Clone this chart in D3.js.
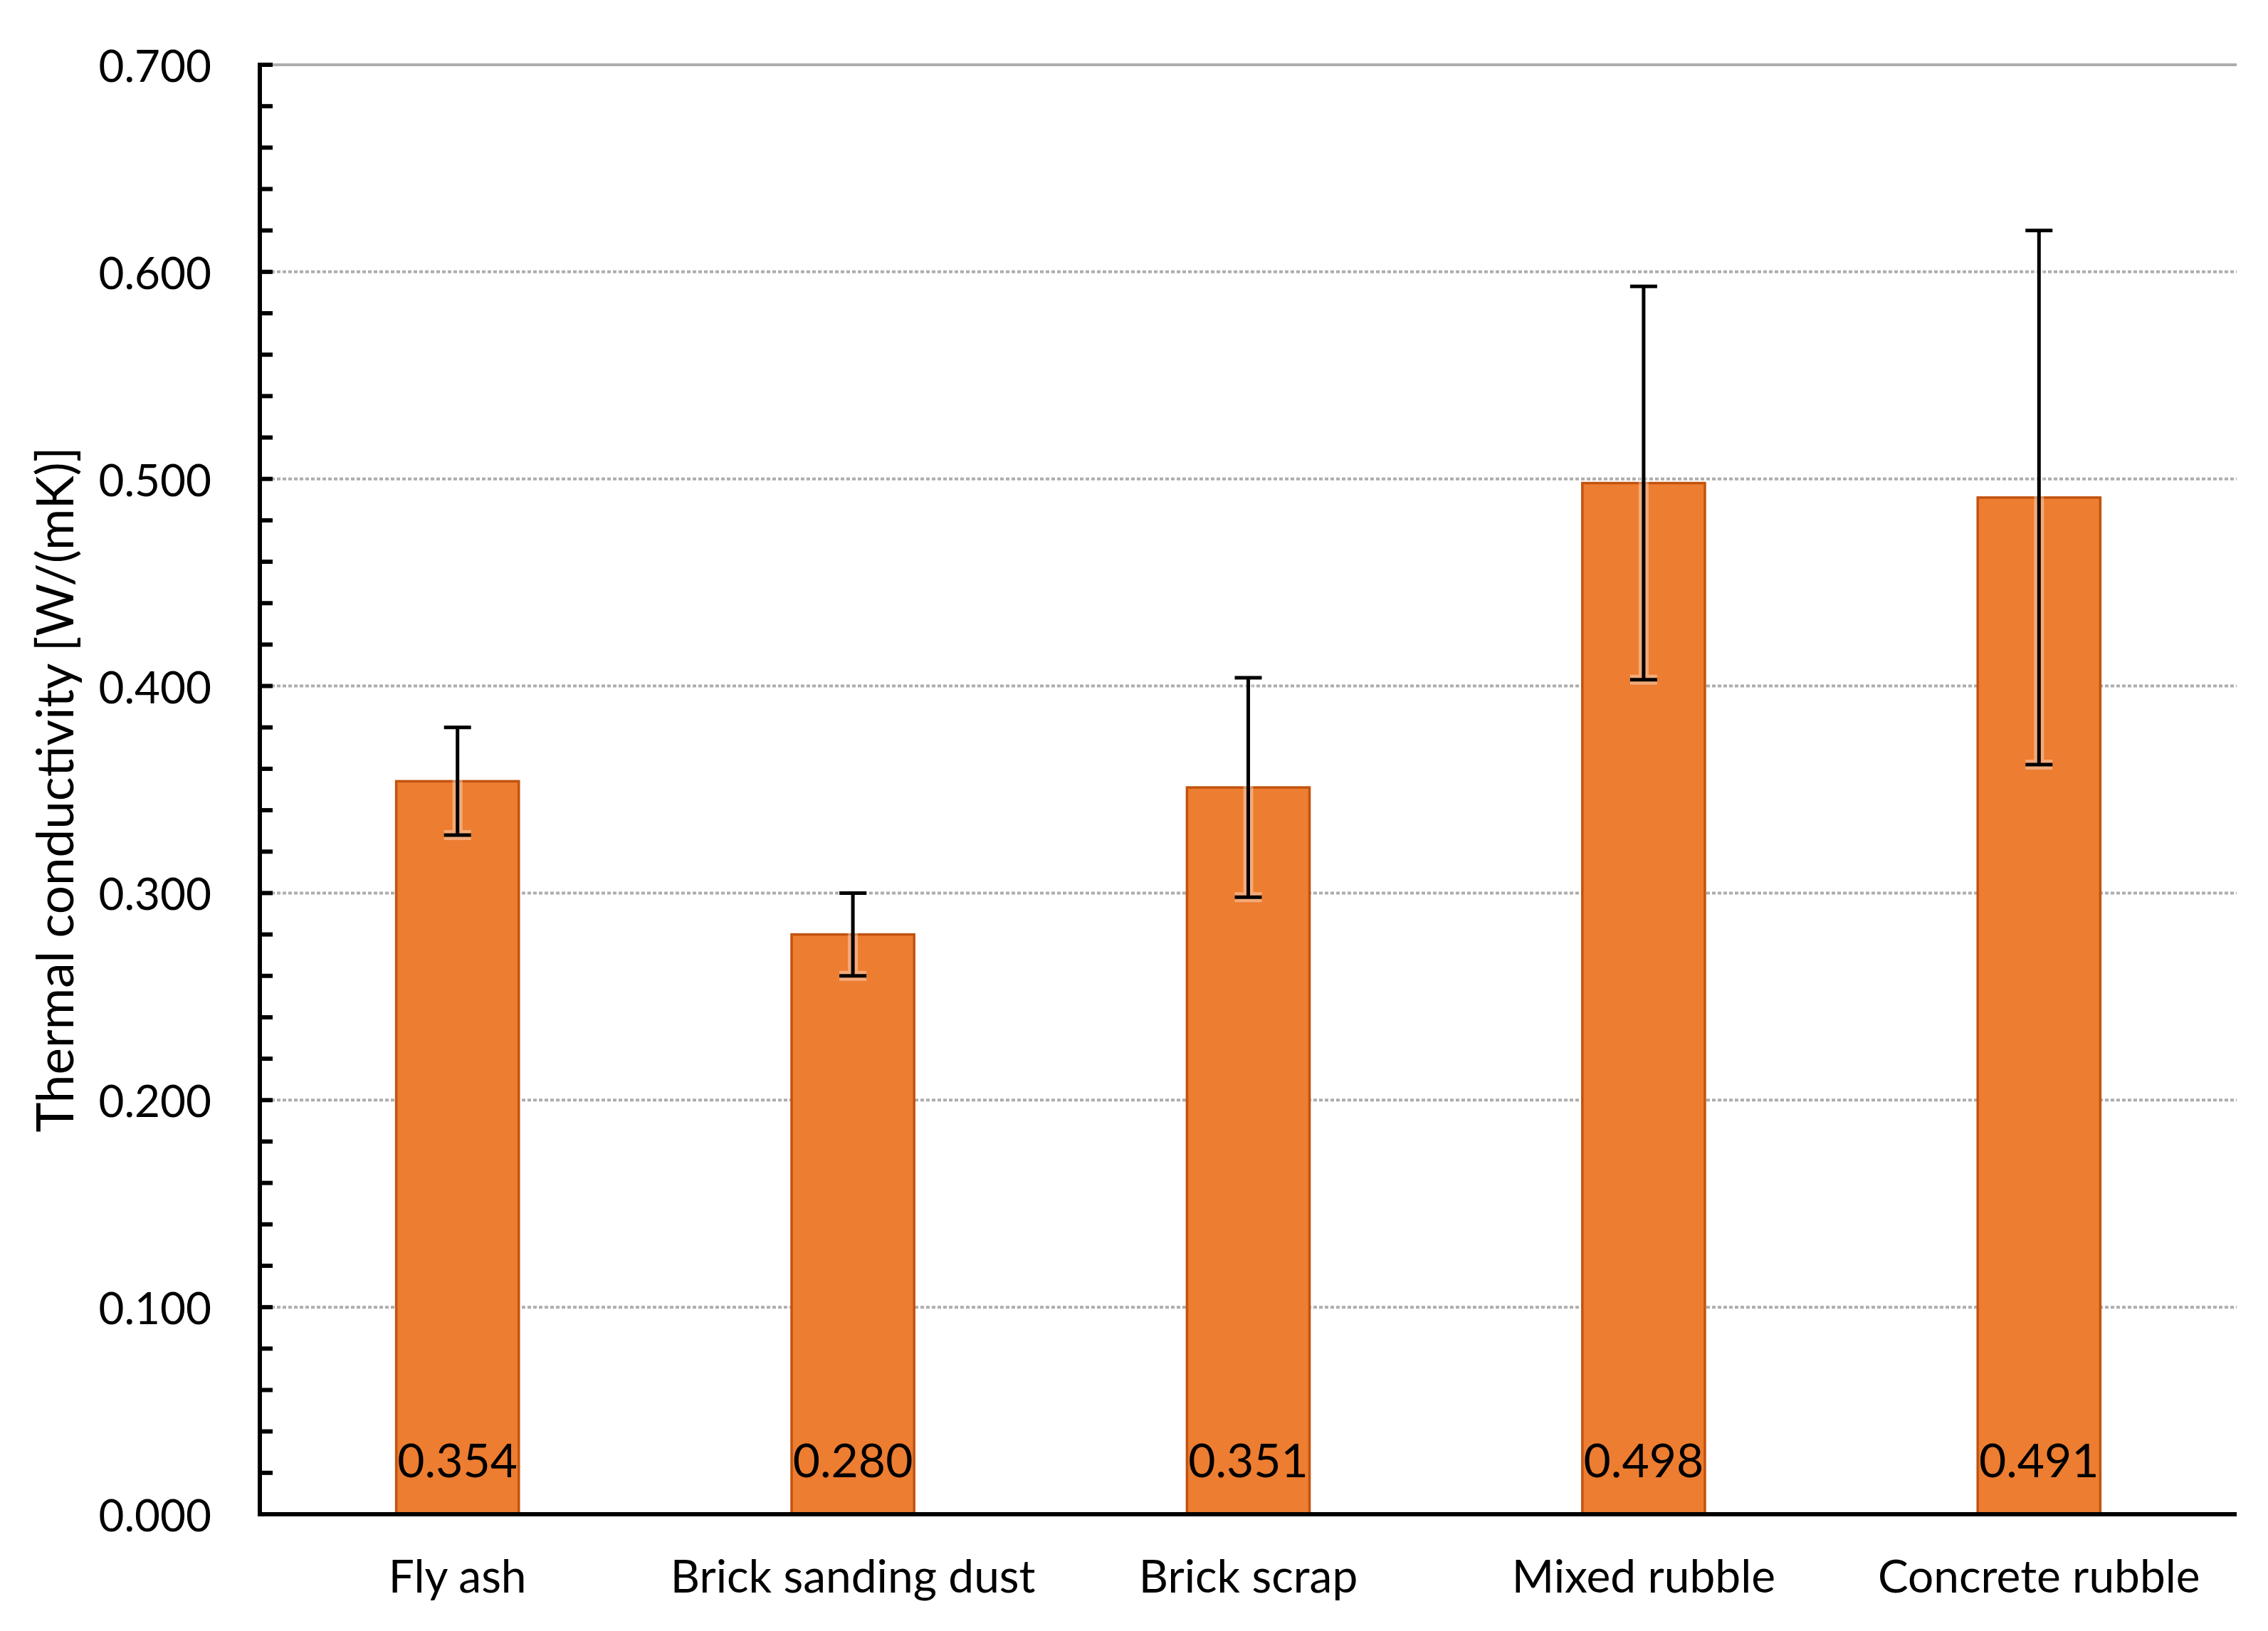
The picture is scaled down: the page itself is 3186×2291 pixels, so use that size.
<!DOCTYPE html>
<html>
<head>
<meta charset="utf-8">
<script src="https://cdn.jsdelivr.net/npm/d3@7"></script>
<style>
  html, body { margin: 0; padding: 0; background: #ffffff; }
  svg { display: block; }
  text { font-family: Lato, "Open Sans", sans-serif; fill: #000; }
</style>
</head>
<body>
<script>
// ---- Data ----
const categories = ["Fly ash", "Brick sanding dust", "Brick scrap", "Mixed rubble", "Concrete rubble"];
const values = [0.354, 0.280, 0.351, 0.498, 0.491];
const errors = [0.026, 0.020, 0.053, 0.095, 0.129];
const yTicks = [0.0, 0.1, 0.2, 0.3, 0.4, 0.5, 0.6, 0.7];
const yTitle = "Thermal conductivity [W/(mK)]";

(function () {
// ---- Layout ----
const W = 3186, H = 2291;
const pLeft = 365, pRight = 3142, pTop = 91, pBottom = 2127;

const svg = d3.select("body").append("svg").attr("width", W).attr("height", H);

const x = d3.scaleBand().domain(categories).range([pLeft, pRight])
  .paddingInner(0.69).paddingOuter(0.345);
const y = d3.scaleLinear().domain([0, 0.7]).range([pBottom, pTop]);

// gridlines
svg.append("g").selectAll("line").data(yTicks.filter(d => d > 0)).join("line")
  .attr("x1", pLeft).attr("x2", pRight)
  .attr("y1", d => y(d)).attr("y2", d => y(d))
  .attr("stroke", "#adadad").attr("stroke-width", 4)
  .attr("stroke-dasharray", d => d === 0.7 ? null : "5,3");

// bars
svg.append("g").selectAll("rect").data(values).join("rect")
  .attr("x", (d, i) => x(categories[i]))
  .attr("y", d => y(d))
  .attr("width", x.bandwidth())
  .attr("height", d => pBottom - y(d))
  .attr("fill", "#ED7D31")
  .attr("stroke", "#C2530F").attr("stroke-width", 3.5);

// data labels
svg.append("g").selectAll("text").data(values).join("text")
  .attr("x", (d, i) => x(categories[i]) + x.bandwidth() / 2)
  .attr("y", 2075)
  .attr("text-anchor", "middle")
  .attr("font-size", 66)
  .text(d => d3.format(".3f")(d));

// error bars
const eb = svg.append("g");
const capW = 38;
values.forEach((v, i) => {
  const cx = x(categories[i]) + x.bandwidth() / 2;
  const y1 = y(v + errors[i]), y2 = y(v - errors[i]);
  const path = `M${cx},${y1}V${y2}M${cx - capW / 2},${y1}H${cx + capW / 2}M${cx - capW / 2},${y2}H${cx + capW / 2}`;
  eb.append("path").attr("d", path).attr("stroke", "#fff").attr("stroke-opacity", 0.35)
    .attr("stroke-width", 14).attr("fill", "none");
  eb.append("path").attr("d", path).attr("stroke", "#000")
    .attr("stroke-width", 5).attr("fill", "none");
});

// y axis minor + major ticks (inward)
const tickVals = d3.range(0, 36).map(i => i * 0.02);
svg.append("g").selectAll("line").data(tickVals).join("line")
  .attr("x1", pLeft).attr("x2", pLeft + 18)
  .attr("y1", d => y(d)).attr("y2", d => y(d))
  .attr("stroke", "#000").attr("stroke-width", 6);

// axis lines
svg.append("line").attr("x1", pLeft).attr("x2", pLeft).attr("y1", pTop - 3).attr("y2", pBottom + 3)
  .attr("stroke", "#000").attr("stroke-width", 6);
svg.append("line").attr("x1", pLeft - 3).attr("x2", pRight).attr("y1", pBottom).attr("y2", pBottom)
  .attr("stroke", "#000").attr("stroke-width", 6);

// y tick labels
svg.append("g").selectAll("text").data(yTicks).join("text")
  .attr("x", 297).attr("y", d => y(d))
  .attr("text-anchor", "end").attr("dominant-baseline", "central")
  .attr("font-size", 62)
  .text(d => d3.format(".3f")(d));

// x labels
svg.append("g").selectAll("text").data(categories).join("text")
  .attr("x", d => x(d) + x.bandwidth() / 2)
  .attr("y", 2237)
  .attr("text-anchor", "middle")
  .attr("font-size", 64)
  .text(d => d);

// y title
svg.append("text")
  .attr("transform", `translate(75, ${(pTop + pBottom) / 2}) rotate(-90)`)
  .attr("text-anchor", "middle").attr("dominant-baseline", "central")
  .attr("font-size", 71)
  .text(yTitle);
})();
</script>
</body>
</html>
